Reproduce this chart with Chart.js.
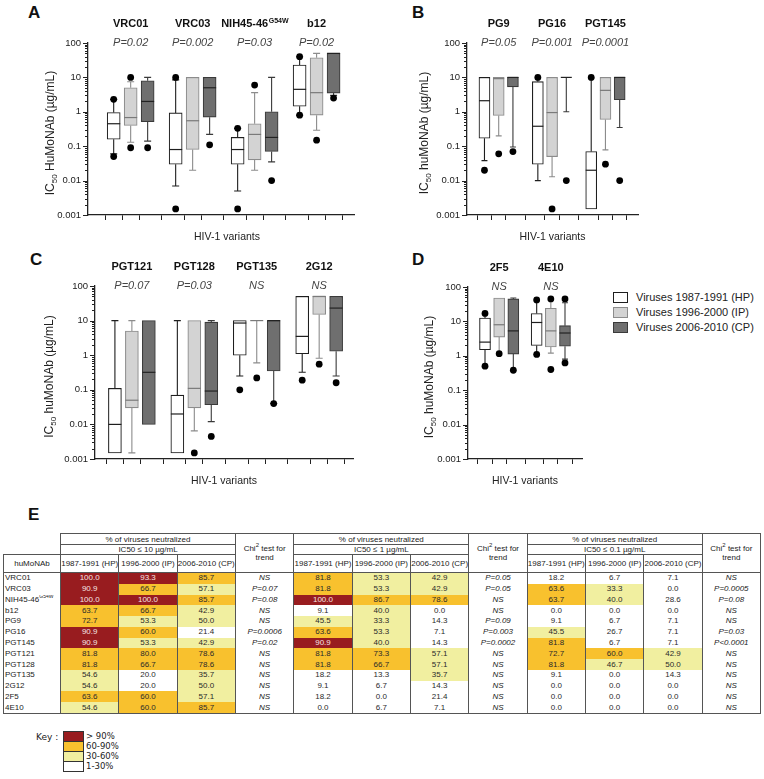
<!DOCTYPE html>
<html lang="en">
<head>
<meta charset="UTF-8">
<title>huMoNAb IC50 against HIV-1 variants</title>
<script src="https://cdn.jsdelivr.net/npm/chart.js"></script>
<style>
    body {
        margin: 0;
        width: 764px;
        height: 779px;
        position: relative;
        overflow: hidden;
        background: #fff;
        color: #222;
        font-family: "Liberation Sans", Arial, sans-serif;
    }
    canvas { position: absolute; }
    .letter { position: absolute; font-weight: bold; font-size: 17px; line-height: 17px; color: #111; }
    #legend { position: absolute; left: 613px; top: 292px; font-size: 11px; }
    #legend div { height: 15px; line-height: 11px; white-space: nowrap; }
    #legend span.sw { display: inline-block; width: 13px; height: 9px; vertical-align: top; margin-right: 8px; }
    #tbl { position: absolute; left: 3px; top: 533px; border-collapse: collapse; table-layout: fixed; font-size: 8px; width: 757px; }
    #tbl th, #tbl td { padding: 0; text-align: center; font-weight: normal; white-space: nowrap; overflow: hidden; }
    #tbl th { border: 1px solid #555; }
    #tbl td.blank { border: none; }
    #tbl tr.h1 th { height: 10px; line-height: 9px; }
    #tbl tr.h2 th { height: 9px; line-height: 9px; }
    #tbl tr.h3 th { height: 17px; line-height: 9px; }
    #tbl tr.d td { height: 10.77px; line-height: 10px; border-left: 1px solid #555; border-right: 1px solid #555; }
    #tbl tr.d:last-child td { border-bottom: 1px solid #555; }
    #tbl td.nm { text-align: left; padding-left: 1px; }
    #tbl td.chi { font-style: italic; }
    #tbl sup { font-size: 5px; line-height: 0; }
    #key { position: absolute; left: 36px; top: 731px; font-family: "DejaVu Sans", Verdana, sans-serif; font-size: 8.5px; }
    #key .lab { position: absolute; left: 0; top: 0; font-size: 9px; white-space: nowrap; line-height: 10px; }
    #key .row { position: absolute; left: 27px; height: 10px; white-space: nowrap; line-height: 10px; }
    #key .row span { display: inline-block; width: 19px; height: 9px; border: 1px solid #333; vertical-align: top; margin-right: 2px; }
</style>
</head>
<body>
<div class="letter" style="left:28px;top:4px">A</div>
<div class="letter" style="left:412px;top:4px">B</div>
<div class="letter" style="left:30px;top:251px">C</div>
<div class="letter" style="left:412px;top:251px">D</div>
<div class="letter" style="left:28px;top:506px">E</div>

<canvas id="chartA" width="370" height="250" style="left:0;top:0"></canvas>
<canvas id="chartB" width="280" height="250" style="left:380px;top:0"></canvas>
<canvas id="chartC" width="370" height="240" style="left:0;top:250px"></canvas>
<canvas id="chartD" width="220" height="240" style="left:380px;top:250px"></canvas>
<div id="legend"></div>
<table id="tbl"></table>
<div id="key"></div>

<script>
    const FONT = '"Liberation Sans", Arial, sans-serif';
    Chart.defaults.font.family = FONT;
    Chart.defaults.color = '#222';

    const periods = ['Viruses 1987-1991 (HP)', 'Viruses 1996-2000 (IP)', 'Viruses 2006-2010 (CP)'];
    const periodCols = ['1987-1991 (HP)', '1996-2000 (IP)', '2006-2010 (CP)'];

    // box plots: per antibody, one [min, q1, median, q3, max] for HP, IP, CP
    const abA = ['VRC01', 'VRC03', 'NIH45-46^G54W', 'b12'];
    const pA = ['P=0.02', 'P=0.002', 'P=0.03', 'P=0.02'];
    const boxA = [
        [[0.06, 0.16, 0.45, 0.95, 2.3], [0.13, 0.4, 0.68, 5, 7.5], [0.14, 0.52, 2.0, 8, 10]],
        [[0.007, 0.03, 0.08, 0.93, 8.5], [0.02, 0.08, 0.55, 10, 10], [0.22, 0.7, 5, 10, 10]],
        [[0.005, 0.03, 0.08, 0.18, 0.33], [0.02, 0.04, 0.22, 0.45, 3.6], [0.035, 0.07, 0.18, 1.0, 10]],
        [[0.8, 1.45, 4.5, 23, 40], [0.29, 0.8, 3.6, 37, 50], [3.0, 3.5, 50, 50, 50]]
    ];
    const dotA = [
        [[0.05, 2.3], [0.09, 10], [0.09]],
        [[0.0015, 10], [], [0.11]],
        [[0.0015, 0.33], [6], [0.01]],
        [[0.8, 40], [0.15], [2.5]]
    ];

    const abB = ['PG9', 'PG16', 'PGT145'];
    const pB = ['P=0.05', 'P=0.001', 'P=0.0001'];
    const boxB = [
        [[0.038, 0.17, 2.1, 10, 10], [0.2, 0.78, 9.2, 10, 10], [0.095, 5.3, 10, 10, 10]],
        [[0.01, 0.03, 0.38, 7.5, 10], [0.013, 0.05, 0.95, 10, 10], [1.0, 10, 10, 10, 10]],
        [[0.0015, 0.0015, 0.02, 0.07, 9.5], [0.078, 0.6, 4.2, 10, 10], [0.35, 2.25, 10, 10, 10]]
    ];
    const dotB = [
        [[0.02], [0.06], [0.07]],
        [[10], [0.0015], [0.01]],
        [[10], [0.03], [0.01]]
    ];

    const abC = ['PGT121', 'PGT128', 'PGT135', '2G12'];
    const pC = ['P=0.07', 'P=0.03', 'NS', 'NS'];
    const boxC = [
        [[0.0015, 0.0015, 0.01, 0.11, 10], [0.0015, 0.03, 0.05, 5, 10], [0.01, 0.01, 0.32, 10, 10]],
        [[0.0015, 0.0015, 0.02, 0.07, 10], [0.0065, 0.03, 0.11, 10, 10], [0.012, 0.037, 0.092, 9, 10]],
        [[0.25, 1.0, 8.5, 10, 10], [0.6, 10, 10, 10, 10], [0.04, 0.35, 10, 10, 10]],
        [[0.32, 1.1, 3.5, 50, 50], [0.82, 15, 50, 50, 50], [0.25, 1.3, 23, 50, 50]]
    ];
    const dotC = [
        [[], [], []],
        [[], [0.0015], [0.0045]],
        [[0.1], [0.22], [0.04]],
        [[0.19], [0.55], [0.16]]
    ];

    const abD = ['2F5', '4E10'];
    const pD = ['NS', 'NS'];
    const boxD = [
        [[0.5, 1.5, 2.5, 12.5, 17], [1.15, 3.5, 8, 48, 48], [0.38, 1.12, 5.3, 45, 48]],
        [[1.1, 2.0, 9.3, 17, 42], [1.2, 1.8, 5.3, 24, 45], [0.8, 1.9, 4.6, 7.5, 35]]
    ];
    const dotD = [
        [[0.5, 17], [1.15], [0.38]],
        [[1.1, 42], [0.4, 45], [0.62, 45]]
    ];

    // table E: % of viruses neutralized (HP, IP, CP) and chi2 test for trend
    const tableAbs = ['VRC01', 'VRC03', 'NIH45-46^G54W', 'b12', 'PG9', 'PG16', 'PGT145', 'PGT121', 'PGT128', 'PGT135', '2G12', '2F5', '4E10'];
    const cutoffs = ['IC50 ≤ 10 µg/mL', 'IC50 ≤ 1 µg/mL', 'IC50 ≤ 0.1 µg/mL'];
    const neut10 = [[100.0, 93.3, 85.7], [90.9, 66.7, 57.1], [100.0, 100.0, 85.7], [63.7, 66.7, 42.9], [72.7, 53.3, 50.0], [90.9, 60.0, 21.4], [90.9, 53.3, 42.9], [81.8, 80.0, 78.6], [81.8, 66.7, 78.6], [54.6, 20.0, 35.7], [54.6, 20.0, 50.0], [63.6, 60.0, 57.1], [54.6, 60.0, 85.7]];
    const chi10 = ['NS', 'P=0.07', 'P=0.08', 'NS', 'NS', 'P=0.0006', 'P=0.02', 'NS', 'NS', 'NS', 'NS', 'NS', 'NS'];
    const neut1 = [[81.8, 53.3, 42.9], [81.8, 53.3, 42.9], [100.0, 86.7, 78.6], [9.1, 40.0, 0.0], [45.5, 33.3, 14.3], [63.6, 53.3, 7.1], [90.9, 40.0, 14.3], [81.8, 73.3, 57.1], [81.8, 66.7, 57.1], [18.2, 13.3, 35.7], [9.1, 6.7, 14.3], [18.2, 0.0, 21.4], [0.0, 6.7, 7.1]];
    const chi1 = ['P=0.05', 'P=0.05', 'NS', 'NS', 'P=0.09', 'P=0.003', 'P=0.0002', 'NS', 'NS', 'NS', 'NS', 'NS', 'NS'];
    const neut01 = [[18.2, 6.7, 7.1], [63.6, 33.3, 0.0], [63.7, 40.0, 28.6], [0.0, 0.0, 0.0], [9.1, 6.7, 7.1], [45.5, 26.7, 7.1], [81.8, 6.7, 7.1], [72.7, 60.0, 42.9], [81.8, 46.7, 50.0], [9.1, 0.0, 14.3], [0.0, 0.0, 0.0], [0.0, 0.0, 0.0], [0.0, 0.0, 0.0]];
    const chi01 = ['NS', 'P=0.0005', 'P=0.08', 'NS', 'NS', 'P=0.03', 'P<0.0001', 'NS', 'NS', 'NS', 'NS', 'NS', 'NS'];
    const keyLabels = ['> 90%', '60-90%', '30-60%', '1-30%'];

    const fillCol = ['#ffffff', '#d3d3d3', '#6f6f6f'];
    const edgeCol = ['#1e1e1e', '#8c8c8c', '#3a3a3a'];
    const medCol = ['#1e1e1e', '#7a7a7a', '#222222'];
    const heatCol = ['#981c1f', '#f8c12e', '#f1efa0', '#ffffff'];

    const isDecade = v => { const l = Math.log10(v); return Math.abs(l - Math.round(l)) < 1e-6; };
    const fmtDecade = v => v >= 1 ? v.toFixed(0) : v.toFixed(Math.round(-Math.log10(v)));

    function logTicks() {
        const t = [];
        for (let e = -3; e <= 1; e++) for (let m = 1; m <= 9; m++) t.push({ value: +(m * Math.pow(10, e)).toPrecision(6) });
        t.push({ value: 100 });
        return t;
    }

    function drawYTitle(ctx, text, cx, cy) {
        ctx.save();
        ctx.translate(cx, cy);
        ctx.rotate(-Math.PI / 2);
        ctx.fillStyle = '#222';
        ctx.textBaseline = 'middle';
        ctx.textAlign = 'left';
        ctx.font = '12px ' + FONT;
        const w1 = ctx.measureText('IC').width;
        const w3 = ctx.measureText(' ' + text).width;
        ctx.font = '8px ' + FONT;
        const w2 = ctx.measureText('50').width;
        let x = -(w1 + w2 + w3) / 2;
        ctx.font = '12px ' + FONT;
        ctx.fillText('IC', x, 0);
        ctx.font = '8px ' + FONT;
        ctx.fillText('50', x + w1, 3.5);
        ctx.font = '12px ' + FONT;
        ctx.fillText(' ' + text, x + w1 + w2, 0);
        ctx.restore();
    }

    function boxChart(id, names, pvals, boxes, dots, cfg) {
        const pos = (g, k) => g * cfg.step + k;
        const datasets = [0, 1, 2].map(k => ({
            type: 'bar',
            label: periods[k],
            data: boxes.map((b, g) => ({ x: pos(g, k), y: [b[k][1], b[k][3]] })),
            stats: boxes.map(b => b[k]),
            period: k,
            backgroundColor: fillCol[k],
            borderColor: edgeCol[k],
            borderWidth: 1.1,
            borderSkipped: false,
            barThickness: cfg.bw,
            grouped: false,
            order: 1
        }));
        const pts = [];
        dots.forEach((d, g) => d.forEach((vals, k) => vals.forEach(v => pts.push({ x: pos(g, k), y: v }))));
        datasets.push({ type: 'scatter', data: pts, pointRadius: 3.4, pointHoverRadius: 3.4, backgroundColor: '#000', borderWidth: 0, order: 0 });

        const tickPos = [];
        names.forEach((n, g) => [0, 1, 2].forEach(k => tickPos.push(pos(g, k))));

        const decor = {
            id: 'decor',
            beforeDatasetsDraw(chart) {
                const ctx = chart.ctx, ys = chart.scales.y;
                ctx.save();
                chart.data.datasets.forEach((ds, i) => {
                    if (!ds.stats) return;
                    chart.getDatasetMeta(i).data.forEach((bar, j) => {
                        const [mn, q1, , q3, mx] = ds.stats[j];
                        const cap = bar.width * 0.27;
                        ctx.strokeStyle = ds.borderColor;
                        ctx.lineWidth = 1.1;
                        ctx.beginPath();
                        if (mx > q3) {
                            ctx.moveTo(bar.x, ys.getPixelForValue(q3));
                            ctx.lineTo(bar.x, ys.getPixelForValue(mx));
                            ctx.moveTo(bar.x - cap, ys.getPixelForValue(mx));
                            ctx.lineTo(bar.x + cap, ys.getPixelForValue(mx));
                        }
                        if (mn < q1) {
                            ctx.moveTo(bar.x, ys.getPixelForValue(q1));
                            ctx.lineTo(bar.x, ys.getPixelForValue(mn));
                            ctx.moveTo(bar.x - cap, ys.getPixelForValue(mn));
                            ctx.lineTo(bar.x + cap, ys.getPixelForValue(mn));
                        }
                        ctx.stroke();
                    });
                });
                ctx.restore();
            },
            afterDatasetsDraw(chart) {
                const ctx = chart.ctx, ys = chart.scales.y;
                ctx.save();
                chart.data.datasets.forEach((ds, i) => {
                    if (!ds.stats) return;
                    chart.getDatasetMeta(i).data.forEach((bar, j) => {
                        const y = ys.getPixelForValue(ds.stats[j][2]);
                        ctx.strokeStyle = medCol[ds.period];
                        ctx.lineWidth = 1.2;
                        ctx.beginPath();
                        ctx.moveTo(bar.x - bar.width / 2, y);
                        ctx.lineTo(bar.x + bar.width / 2, y);
                        ctx.stroke();
                    });
                });
                ctx.restore();
            },
            afterDraw(chart) {
                const ctx = chart.ctx, xs = chart.scales.x, ys = chart.scales.y, area = chart.chartArea;
                ctx.save();
                // y tick marks, long on decades
                ctx.strokeStyle = '#222';
                ctx.lineWidth = 1;
                ctx.beginPath();
                ys.ticks.forEach(t => {
                    const y = Math.round(ys.getPixelForValue(t.value)) + 0.5;
                    const len = isDecade(t.value) ? 5 : 3;
                    ctx.moveTo(area.left - len, y);
                    ctx.lineTo(area.left, y);
                });
                ctx.stroke();
                // antibody names and P values
                names.forEach((n, g) => {
                    const cx = xs.getPixelForValue(pos(g, 1));
                    const [base, sup] = n.split('^');
                    ctx.fillStyle = '#111';
                    ctx.textBaseline = 'alphabetic';
                    ctx.font = 'bold 11px ' + FONT;
                    const wb = ctx.measureText(base).width;
                    let ws = 0;
                    if (sup) { ctx.font = 'bold 7px ' + FONT; ws = ctx.measureText(sup).width; }
                    const x0 = cx - (wb + ws) / 2;
                    ctx.textAlign = 'left';
                    ctx.font = 'bold 11px ' + FONT;
                    ctx.fillText(base, x0, area.top - 16);
                    if (sup) { ctx.font = 'bold 7px ' + FONT; ctx.fillText(sup, x0 + wb + 0.5, area.top - 20); }
                    ctx.font = 'italic 11px ' + FONT;
                    ctx.fillStyle = '#444';
                    ctx.textAlign = 'center';
                    ctx.fillText(pvals[g], cx, area.top + 3);
                });
                // axis titles
                ctx.fillStyle = '#222';
                ctx.font = '10.5px ' + FONT;
                ctx.textAlign = 'center';
                ctx.fillText('HIV-1 variants', (area.left + area.right) / 2 + cfg.xtOff, area.bottom + 25);
                ctx.restore();
                drawYTitle(ctx, cfg.ylabel, area.left - cfg.ytOff, (area.top + area.bottom) / 2 + 4);
            }
        };

        return new Chart(document.getElementById(id), {
            type: 'bar',
            data: { datasets },
            options: {
                responsive: false,
                animation: false,
                events: [],
                layout: { padding: { top: cfg.top, right: cfg.right, bottom: 0, left: 0 } },
                plugins: { legend: { display: false }, tooltip: { enabled: false } },
                scales: {
                    x: {
                        type: 'linear',
                        min: cfg.xmin,
                        max: cfg.xmax,
                        afterBuildTicks: s => { s.ticks = tickPos.map(v => ({ value: v })); },
                        afterFit: s => { s.height = cfg.xh; },
                        ticks: { display: false },
                        grid: { drawOnChartArea: false, drawTicks: true, tickLength: 5, color: '#222', lineWidth: 1 },
                        border: { display: true, color: '#222', width: 1.3 }
                    },
                    y: {
                        type: 'logarithmic',
                        min: 0.001,
                        max: 100,
                        afterBuildTicks: s => { s.ticks = logTicks(); },
                        afterFit: s => { s.width = cfg.left; },
                        ticks: {
                            autoSkip: false,
                            padding: 7,
                            color: '#222',
                            font: { size: 9.5 },
                            callback: v => isDecade(v) ? fmtDecade(v) : ''
                        },
                        grid: { drawOnChartArea: false, drawTicks: false },
                        border: { display: true, color: '#222', width: 1.3 }
                    }
                }
            },
            plugins: [decor]
        });
    }

    boxChart('chartA', abA, pA, boxA, dotA, { step: 3.65, xmin: -0.86, xmax: 13.5, bw: 13, left: 88, top: 43, right: 16, xh: 35, ytOff: 37, xtOff: 6, ylabel: 'HuMoNAb (µg/mL)' });
    boxChart('chartB', abB, pB, boxB, dotB, { step: 3.75, xmin: -0.56, xmax: 10.12, bw: 11, left: 87, top: 43, right: 22, xh: 35, ytOff: 42, xtOff: 0, ylabel: 'huMoNAb (µg/mL)' });
    boxChart('chartC', abC, pC, boxC, dotC, { step: 3.68, xmin: -0.54, xmax: 13.4, bw: 13, left: 95, top: 36, right: 17, xh: 31, ytOff: 45, xtOff: 0, ylabel: 'huMoNAb (µg/mL)' });
    boxChart('chartD', abD, pD, boxD, dotD, { step: 3.65, xmin: -0.53, xmax: 6.18, bw: 11, left: 88, top: 37, right: 18, xh: 31, ytOff: 38, xtOff: 0, ylabel: 'huMoNAb (µg/mL)' });

    // legend
    document.getElementById('legend').innerHTML = periods.map((p, k) =>
        `<div><span class="sw" style="background:${fillCol[k]};border:1px solid ${edgeCol[k]}"></span>${p}</div>`).join('');

    // table E
    const level = v => v > 90 ? 0 : v >= 60 ? 1 : v >= 30 ? 2 : 3;
    const abHtml = a => { const [b, s] = a.split('^'); return s ? `${b}<sup>${s}</sup>` : b; };
    const sets = [neut10, neut1, neut01];
    const chis = [chi10, chi1, chi01];
    let html = '<colgroup><col style="width:57px">' + '<col style="width:58.33px">'.repeat(12) + '</colgroup>';
    html += '<tr class="h1"><td class="blank" rowspan="2"></td>';
    cutoffs.forEach(() => { html += '<th colspan="3">% of viruses neutralized</th><th rowspan="3">Chi<sup style="font-size:6px">2</sup> test for<br>trend</th>'; });
    html += '</tr><tr class="h2">';
    cutoffs.forEach(c => { html += `<th colspan="3">${c}</th>`; });
    html += '</tr><tr class="h3"><th>huMoNAb</th>';
    cutoffs.forEach(() => periodCols.forEach(p => { html += `<th>${p}</th>`; }));
    html += '</tr>';
    tableAbs.forEach((ab, r) => {
        html += `<tr class="d"><td class="nm">${abHtml(ab)}</td>`;
        sets.forEach((set, s) => {
            set[r].forEach(v => {
                const lv = level(v);
                html += `<td style="background:${heatCol[lv]};color:${lv === 0 ? '#f6e4e4' : '#2a2a2a'}">${v.toFixed(1)}</td>`;
            });
            html += `<td class="chi">${chis[s][r]}</td>`;
        });
        html += '</tr>';
    });
    document.getElementById('tbl').innerHTML = html;

    // key
    document.getElementById('key').innerHTML = '<div class="lab" style="top:1px">Key :</div>' + keyLabels.map((l, i) =>
        `<div class="row" style="top:${i * 10}px"><span style="background:${heatCol[i]}"></span>${l}</div>`).join('');
</script>
</body>
</html>
